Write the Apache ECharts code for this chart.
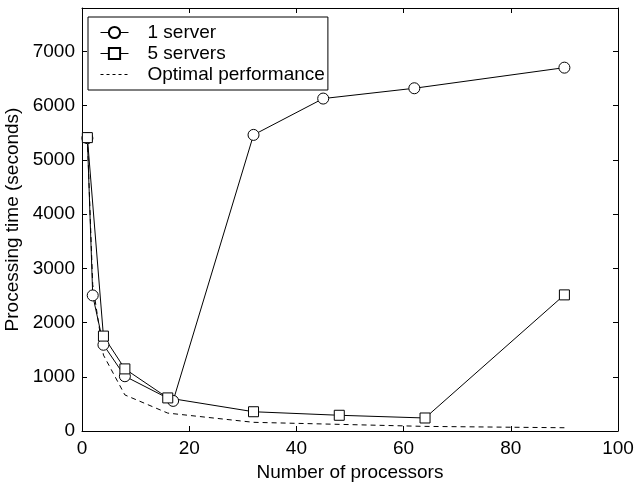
<!DOCTYPE html>
<html lang="en">
<head>
    <meta charset="UTF-8">
    <title>Processing time</title>
    <script src="https://cdn.jsdelivr.net/npm/echarts@6/dist/echarts.min.js"></script>
    <style>
        body { margin: 0; background: #fff; }
    </style>
</head>
<body>
    <div id="chart" style="width: 635px;height:483px;"></div>
    <script type="text/javascript">

        // values
        var oneServerX = [1, 2, 4, 8, 17, 32, 45, 62, 90];
        var oneServerY = [5400, 2500, 1590, 1010, 555, 5460, 6130, 6320, 6700];

        var fiveServerX = [1, 4, 8, 16, 32, 48, 64, 90];
        var fiveServerY = [5410, 1750, 1145, 610, 355, 290, 240, 2510];

        var optimalX = [1, 2, 4, 8, 16, 32, 64, 90];
        var optimalY = [5400, 2700, 1400, 665, 330, 160, 85, 60];

        var xTicks = [0, 20, 40, 60, 80, 100];

        function pairs(xs, ys) {
            var out = [];
            for (var i = 0; i < xs.length; i++) {
                out.push([xs[i], ys[i]]);
            }
            return out;
        }

        var font = 'Liberation Sans, Arial, sans-serif';
        var fs = 19;
        var chart = echarts.init(document.getElementById('chart'));

        var mirrorX = {
            type: 'value',
            min: xTicks[0],
            max: xTicks[xTicks.length - 1],
            interval: 20,
            splitLine: { show: false },
            axisLine: { show: true, onZero: false, lineStyle: { color: '#000', width: 1 } },
            axisTick: { show: true, inside: true, length: 5, lineStyle: { color: '#000' } }
        };

        var mirrorY = {
            type: 'value',
            min: 0,
            max: 7800,
            interval: 1000,
            splitLine: { show: false },
            axisLine: { show: true, onZero: false, lineStyle: { color: '#000', width: 1 } },
            axisTick: { show: true, inside: true, length: 5, lineStyle: { color: '#000' } }
        };

        chart.setOption({
            animation: false,
            backgroundColor: '#fff',
            grid: { left: 82, right: 17, top: 8, bottom: 52, outerBoundsMode: 'none', containLabel: false },
            legend: {
                orient: 'vertical',
                left: 88,
                top: 17,
                padding: [6, 3, 6, 12],
                itemWidth: 28,
                itemHeight: 14,
                itemGap: 2,
                borderColor: '#000',
                borderWidth: 1,
                backgroundColor: '#fff',
                lineStyle: { width: 1 },
                textStyle: { fontFamily: font, fontSize: fs, color: '#000', padding: [0, 0, 0, 14] },
                data: [
                    { name: '1 server' },
                    { name: '5 servers' },
                    { name: 'Optimal performance', itemStyle: { opacity: 0 }, lineStyle: { type: [3, 3] } }
                ]
            },
            xAxis: [
                Object.assign({}, mirrorX, {
                    position: 'bottom',
                    name: 'Number of processors',
                    nameLocation: 'middle',
                    nameGap: 27,
                    nameTextStyle: { fontFamily: font, fontSize: fs, color: '#000' },
                    axisLabel: { fontFamily: font, fontSize: fs, color: '#000', margin: 8,
                        formatter: function (v) { return String(v); } }
                }),
                Object.assign({}, mirrorX, {
                    position: 'top',
                    axisLabel: { show: false }
                })
            ],
            yAxis: [
                Object.assign({}, mirrorY, {
                    position: 'left',
                    name: 'Processing time (seconds)',
                    nameLocation: 'middle',
                    nameGap: 54,
                    nameTextStyle: { fontFamily: font, fontSize: fs, color: '#000' },
                    axisLabel: { fontFamily: font, fontSize: fs, color: '#000', margin: 7, showMaxLabel: false,
                        formatter: function (v) { return String(v); } }
                }),
                Object.assign({}, mirrorY, {
                    position: 'right',
                    axisLabel: { show: false }
                })
            ],
            series: [
                {
                    name: '1 server',
                    type: 'line',
                    data: pairs(oneServerX, oneServerY),
                    symbol: 'circle',
                    symbolSize: 11,
                    color: '#000',
                    lineStyle: { color: '#000', width: 1, type: 'solid' },
                    itemStyle: { color: '#fff', borderColor: '#000', borderWidth: 1 }
                },
                {
                    name: '5 servers',
                    type: 'line',
                    data: pairs(fiveServerX, fiveServerY),
                    symbol: 'rect',
                    symbolSize: 10,
                    color: '#000',
                    lineStyle: { color: '#000', width: 1, type: 'solid' },
                    itemStyle: { color: '#fff', borderColor: '#000', borderWidth: 1 }
                },
                {
                    name: 'Optimal performance',
                    type: 'line',
                    data: pairs(optimalX, optimalY),
                    symbol: 'none',
                    color: '#000',
                    lineStyle: { color: '#000', width: 1, type: [5, 4] }
                }
            ]
        });

    </script>
</body>
</html>
